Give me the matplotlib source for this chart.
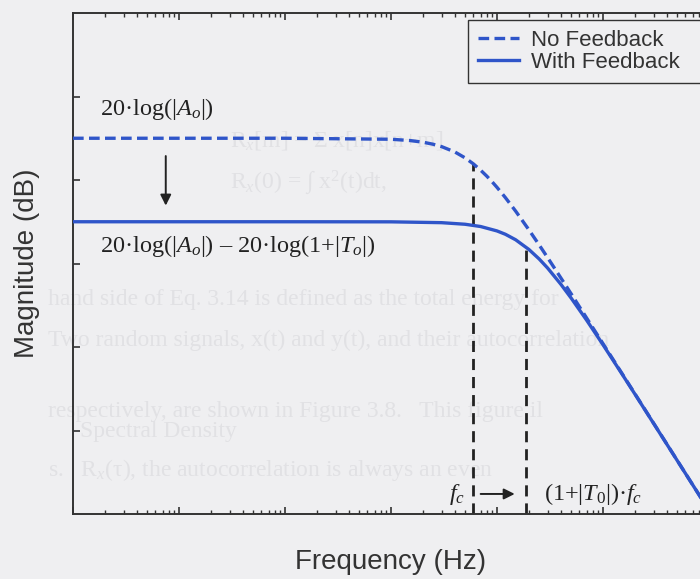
import numpy as np
import matplotlib
matplotlib.use('Agg')
import matplotlib.pyplot as plt

################### DATA ###################

# frequency points (Hz) and magnitude (dB), open loop / no feedback
freq_open = [1, 10, 100, 1000, 1500, 2000, 2500, 3000, 4000, 5000, 6000, 7000, 8000,
             9000, 10000, 12000, 15000, 20000, 25000, 30000, 40000, 50000, 70000,
             100000, 200000, 500000, 1000000]
mag_open = [45.0, 45.0, 45.0, 44.88, 44.73, 44.53, 44.28, 44.0, 43.36, 42.65, 41.92,
            41.18, 40.47, 39.78, 39.12, 37.89, 36.27, 34.03, 32.22, 30.71, 28.28,
            26.38, 23.48, 20.4, 14.4, 6.44, 0.42]

# closed loop / with feedback
freq_fb = [1, 10, 100, 1000, 3000, 5000, 7000, 10000, 12000, 15000, 20000, 25000,
           30000, 40000, 50000, 70000, 100000, 150000, 200000, 500000, 1000000]
mag_fb = [35.0, 35.0, 35.0, 34.99, 34.89, 34.70, 34.43, 33.90, 33.50, 32.84, 31.68,
          30.54, 29.46, 27.52, 25.87, 23.22, 20.27, 16.83, 14.36, 6.43, 0.42]

# corner frequencies and where the marker lines meet the curves
f_c = 5900
f_c_fb = 18700
f_c_top = 41.9
f_c_fb_top = 31.7

legend_labels = ['No Feedback', 'With Feedback']

################### STYLE ###################

bg = '#efeff1'
blue = '#2f55c9'
ink = '#222222'

plt.rcParams['mathtext.fontset'] = 'custom'
plt.rcParams['mathtext.rm'] = 'Liberation Serif'
plt.rcParams['mathtext.it'] = 'Liberation Serif:italic'

fig = plt.figure(figsize=(7.0, 5.79), dpi=100, facecolor=bg)
ax = fig.add_axes([73/700, 1-514/579, (709-73)/700, (514-13)/579])
ax.set_facecolor('none')

# faint bleed-through text of the scanned page (kept clear of the real labels)
ghost = [
    (230, 140, 'R$_x$[m] = Σ x[n]x[n+m]'),
    (230, 183, 'R$_x$(0) = ∫ x$^2$(t)dt,'),
    (48, 300, 'hand side of Eq. 3.14 is defined as the total energy for'),
    (48, 340, 'Two random signals, x(t) and y(t), and their autocorrelation'),
    (48, 412, 'respectively, are shown in Figure 3.8.   This figure il'),
    (80, 432, 'Spectral Density'),
    (48, 470, "s.   R$_x$(τ), the autocorrelation is always an even"),
]
for gx, gy, gt in ghost:
    fig.text(gx/700, 1-gy/579, gt, fontsize=17, family='Liberation Serif',
             color='#e1e1e4', va='center', ha='left', zorder=-5)

################### PLOT ###################

ax.semilogx(freq_open, mag_open, color=blue, lw=2.4, ls=(0, (3.2, 1.6)),
            label=legend_labels[0], zorder=3)
ax.semilogx(freq_fb, mag_fb, color=blue, lw=2.4, label=legend_labels[1], zorder=3)

ax.plot([f_c, f_c], [0, f_c_top], color=ink, lw=2.0, ls=(0, (4, 2.5)), zorder=2)
ax.plot([f_c_fb, f_c_fb], [0, f_c_fb_top], color=ink, lw=2.0, ls=(0, (4, 2.5)), zorder=2)

ax.set_xlim(1, 1e6)
ax.set_ylim(0, 60)
ax.set_yticks([10, 20, 30, 40, 50])
ax.tick_params(axis='x', which='major', direction='in', top=True, length=5, width=1.2,
               labelbottom=False, colors='#333333')
ax.tick_params(axis='x', which='minor', direction='in', top=True, length=3, width=1.0,
               colors='#333333')
ax.tick_params(axis='y', direction='in', length=5, width=1.2, labelleft=False,
               colors='#333333')
ax.yaxis.set_minor_locator(matplotlib.ticker.NullLocator())
for s in ax.spines.values():
    s.set_color('#333333')
    s.set_linewidth(1.4)

ax.set_xlabel('Frequency (Hz)', fontsize=20, family='Liberation Sans', color='#333333',
              labelpad=22)
ax.set_ylabel('Magnitude (dB)', fontsize=20, family='Liberation Sans', color='#333333',
              labelpad=24)

# annotations
serif = dict(family='Liberation Serif', fontsize=17.5, color=ink, va='baseline')
ax.text(1.8, 47.8, '20·log(|$A_o$|)', ha='left', **serif)
ax.text(1.8, 31.4, '20·log(|$A_o$|) – 20·log(1+|$T_o$|)', ha='left', **serif)
ax.text(4950, 1.7, '$f_c$', ha='right', **serif)
ax.text(27500, 1.7, '(1+|$T_{\\mathit{0}}$|)·$f_c$', ha='left', **serif)

ax.annotate('', xy=(7.5, 36.6), xytext=(7.5, 43.2),
            arrowprops=dict(arrowstyle='-|>', color=ink, lw=1.4, mutation_scale=16))
ax.annotate('', xy=(15600, 2.4), xytext=(6600, 2.4),
            arrowprops=dict(arrowstyle='-|>', color=ink, lw=1.4, mutation_scale=16))

leg = ax.legend(loc='upper left', bbox_to_anchor=(468/700, 1-78/579, 250/700, 58/579),
                bbox_transform=fig.transFigure, mode='expand', frameon=True,
                fancybox=False, framealpha=1, facecolor=bg, edgecolor='#333333',
                borderaxespad=0, handlelength=1.85, handletextpad=0.55,
                labelspacing=0.05, borderpad=0.45,
                prop={'family': 'Liberation Sans', 'size': 16})
leg.get_frame().set_linewidth(1.0)
for t in leg.get_texts():
    t.set_color('#333333')

fig.savefig('out.png', dpi=100, facecolor=bg)
